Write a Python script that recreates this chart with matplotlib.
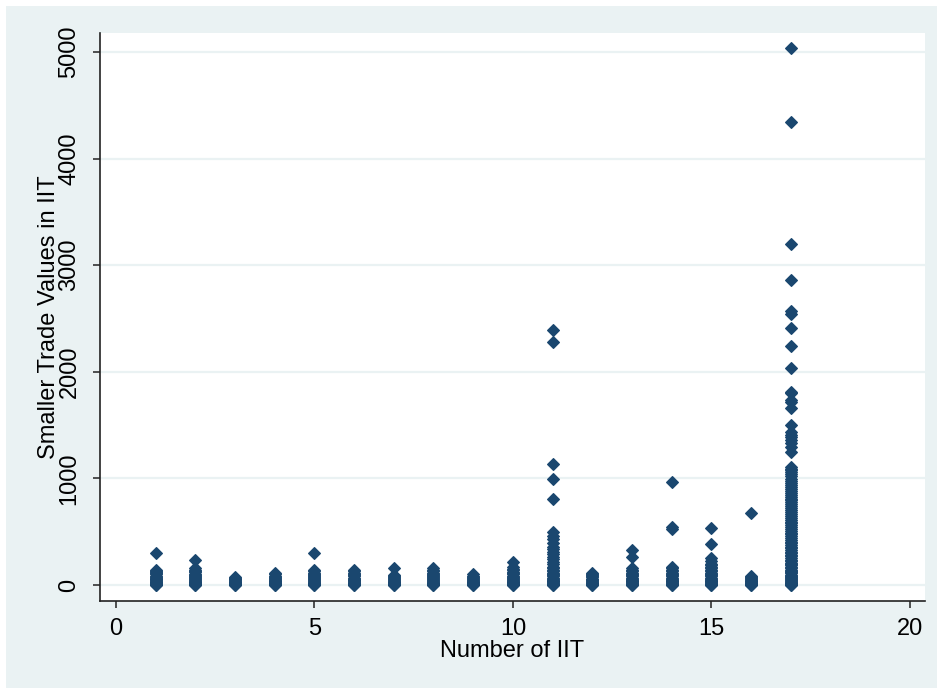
import matplotlib
matplotlib.use("Agg")
import matplotlib.pyplot as plt
from matplotlib.patches import Rectangle

plt.rcParams["font.family"] = ["Liberation Sans", "DejaVu Sans"]

# Smaller trade value observed for each number of IIT (one list per group)
trade_iit_1 = [0, 2, 5, 9, 14, 19, 25, 31, 38, 45, 53, 61, 70, 79, 89, 99,
               109, 119, 129, 140, 297]
trade_iit_2 = [0, 3, 7, 12, 18, 24, 31, 39, 47, 56, 65, 75, 85, 96, 107,
               118, 129, 141, 158, 234]
trade_iit_3 = [0, 2, 5, 9, 13, 18, 24, 30, 37, 44, 52, 60, 69, 78]
trade_iit_4 = [0, 2, 6, 10, 15, 21, 27, 34, 42, 50, 59, 68, 78, 88, 99, 115]
trade_iit_5 = [0, 3, 6, 11, 16, 22, 29, 36, 44, 53, 62, 72, 82, 93, 104,
               116, 128, 140, 303]
trade_iit_6 = [0, 2, 6, 10, 15, 21, 28, 35, 43, 51, 60, 70, 80, 91, 102,
               114, 127, 140]
trade_iit_7 = [0, 2, 5, 9, 14, 19, 25, 32, 39, 47, 55, 64, 74, 84, 95, 156]
trade_iit_8 = [0, 3, 7, 12, 17, 23, 30, 37, 45, 54, 63, 73, 83, 94, 105,
               117, 129, 141, 156]
trade_iit_9 = [0, 2, 5, 9, 14, 19, 25, 32, 39, 47, 56, 65, 75, 86, 100]
trade_iit_10 = [0, 3, 7, 12, 18, 25, 32, 40, 49, 58, 68, 78, 89, 100, 112,
                124, 137, 150, 168, 215]
trade_iit_11 = [0, 3, 7, 12, 18, 25, 33, 41, 50, 60, 70, 81, 92, 104, 116,
                129, 143, 157, 172, 195, 220, 245, 266, 290, 310, 335, 360,
                395, 430, 462, 494, 807, 994, 1132, 2277, 2392]
trade_iit_12 = [0, 2, 6, 10, 15, 21, 28, 35, 43, 52, 61, 71, 82, 93, 104, 116]
trade_iit_13 = [0, 3, 7, 12, 18, 25, 33, 41, 50, 60, 70, 81, 92, 104, 116,
                129, 143, 160, 260, 328]
trade_iit_14 = [0, 3, 7, 12, 18, 25, 33, 41, 50, 60, 70, 81, 92, 104, 116,
                129, 143, 157, 172, 530, 548, 963]
trade_iit_15 = [0, 3, 7, 12, 18, 25, 33, 41, 50, 60, 70, 81, 92, 104, 116,
                129, 143, 157, 172, 186, 200, 225, 250, 382, 532]
trade_iit_16 = [0, 2, 6, 10, 15, 21, 27, 34, 41, 49, 57, 66, 75, 80, 678]
trade_iit_17 = [0, 4, 9, 15, 22, 30, 38, 47, 56, 66, 76, 87, 98, 109, 121,
                133, 145, 158, 171, 184, 197, 211, 225, 239, 253, 268, 283,
                298, 313, 328, 344, 360, 376, 392, 408, 424, 441, 458, 475,
                492, 509, 526, 543, 560, 577, 595, 613, 631, 649, 667, 685,
                703, 721, 739, 757, 775, 793, 811, 829, 847, 866, 885, 904,
                923, 942, 961, 980, 999, 1018, 1037, 1056, 1075, 1092, 1108,
                1248, 1297, 1332, 1360, 1388, 1407, 1435, 1500, 1660, 1717,
                1735, 1801, 1814, 2040, 2245, 2415, 2545, 2570, 2861, 3199,
                4346, 5035]

groups = [trade_iit_1, trade_iit_2, trade_iit_3, trade_iit_4, trade_iit_5,
          trade_iit_6, trade_iit_7, trade_iit_8, trade_iit_9, trade_iit_10,
          trade_iit_11, trade_iit_12, trade_iit_13, trade_iit_14,
          trade_iit_15, trade_iit_16, trade_iit_17]
n_iit = list(range(1, 18))

x_ticks = [0, 5, 10, 15, 20]
y_ticks = [0, 1000, 2000, 3000, 4000, 5000]

navy = "#1A476F"
bg = "#EAF2F3"

W, H = 940, 690
fig = plt.figure(figsize=(W / 100, H / 100), dpi=100, facecolor="white")
frame = Rectangle((6 / W, 1 - 688 / H), 931 / W, 682 / H,
                  transform=fig.transFigure, facecolor=bg,
                  edgecolor="none", zorder=-10)
fig.patches.append(frame)

ax = fig.add_axes([100 / W, 1 - 601 / H, 825 / W, 568 / H], zorder=1)
ax.set_facecolor("white")

xs, ys = [], []
for n, vals in zip(n_iit, groups):
    xs.extend([n] * len(vals))
    ys.extend(vals)
ax.plot(xs, ys, linestyle="none", marker="D", markersize=6.6,
        markerfacecolor=navy, markeredgecolor=navy, markeredgewidth=0.8,
        zorder=3)

ax.set_xlim(-0.40, 20.38)
ax.set_ylim(-150, 5178)
ax.set_xticks(x_ticks)
ax.set_yticks(y_ticks)
ax.set_yticklabels([str(v) for v in y_ticks], rotation=90, va="center")

ax.grid(axis="y", color=bg, linewidth=1.6, zorder=1)
ax.set_axisbelow(True)
for side in ("top", "right"):
    ax.spines[side].set_visible(False)
for side in ("left", "bottom"):
    ax.spines[side].set_color("#222222")
    ax.spines[side].set_linewidth(1.2)

ax.tick_params(axis="both", direction="out", length=5, width=1.1,
               colors="#222222", labelcolor="black", labelsize=17)
ax.tick_params(axis="y", pad=9)
ax.tick_params(axis="x", pad=7)

ax.set_xlabel("Number of IIT", fontsize=17, labelpad=0.5)
ax.set_ylabel("Smaller Trade Values in IIT", fontsize=17, labelpad=-1)

fig.savefig("out.png", dpi=100, facecolor="white")
